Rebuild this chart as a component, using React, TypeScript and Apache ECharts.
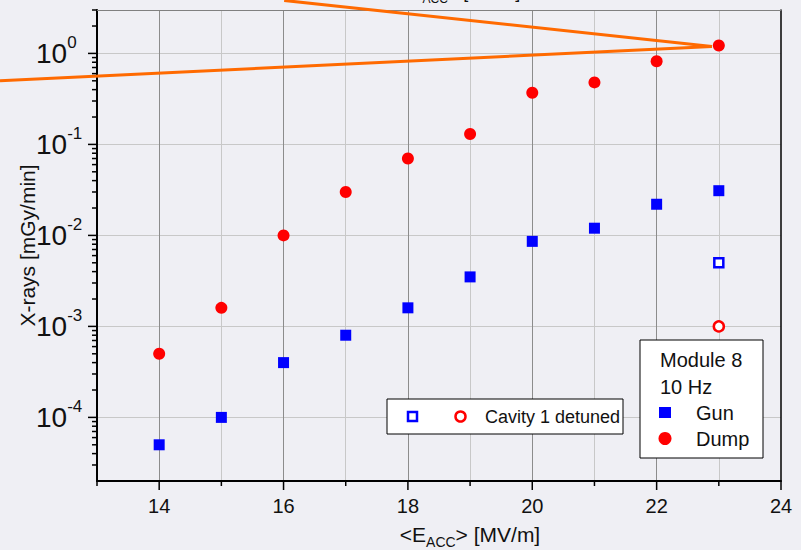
import React, { useEffect, useRef } from 'react';
import * as echarts from 'echarts';

// ---- data ----
const eaccValues = [14, 15, 16, 17, 18, 19, 20, 21, 22, 23];
const gunValues = [5.0e-5, 1.0e-4, 4.0e-4, 8.0e-4, 1.6e-3, 3.5e-3, 8.6e-3, 1.2e-2, 2.2e-2, 3.1e-2];
const dumpValues = [5.0e-4, 1.6e-3, 1.0e-2, 3.0e-2, 7.0e-2, 0.13, 0.37, 0.48, 0.82, 1.22];
const detunedEacc = [23];
const detunedGunValues = [5.0e-3];
const detunedDumpValues = [1.0e-3];
// orange guide lines (converge just left of the last Dump point): [x1, y1, x2, y2]
const guideLines = [
  [16.01, 3.82, 22.89, 1.19],
  [11.44, 0.5, 22.89, 1.19],
];

// ---- axes ----
const X_MIN = 13;
const X_MAX = 24;
const Y_MIN = 2e-5;
const Y_MAX = 3;
const xTickValues = [13, 14, 15, 16, 17, 18, 19, 20, 21, 22, 23, 24];
const xLabelValues = [14, 16, 18, 20, 22, 24];
const yDecades = [1e-5, 1e-4, 1e-3, 1e-2, 1e-1, 1];
const yMinorMultipliers = [2, 3, 4, 5, 6, 7, 8, 9];

const NARROW = "'Liberation Sans Narrow', 'Arial Narrow', 'Liberation Sans', Arial, sans-serif";
const SANS = "'Liberation Sans', Arial, sans-serif";
const TEXT = '#111111';

function buildTicks() {
  const ticks: number[][] = [];
  xTickValues.forEach((v) => {
    ticks.push([v, Y_MIN, xLabelValues.includes(v) ? 9 : 5, 0]);
  });
  yDecades.forEach((d) => {
    if (d > Y_MIN && d < Y_MAX) ticks.push([X_MIN, d, 9, 1]);
    yMinorMultipliers.forEach((m) => {
      const v = m * d;
      if (v > Y_MIN * 1.01 && v <= Y_MAX) ticks.push([X_MIN, v, 5, 1]);
    });
  });
  return ticks;
}

export default function App() {
  const ref = useRef<HTMLDivElement>(null);

  useEffect(() => {
    if (!ref.current) return;
    const chart = echarts.init(ref.current, undefined, { renderer: 'svg' });

    const isDecade = (v: number) => {
      const l = Math.log10(v);
      return Math.abs(l - Math.round(l)) < 1e-6;
    };

    const legendText = (text: string, x: number, y: number, size: number) => ({
      type: 'text',
      x,
      y,
      z: 21,
      style: { text, fontFamily: SANS, fontSize: size, fill: TEXT, verticalAlign: 'middle', align: 'left' },
    });

    const option: any = {
      animation: false,
      backgroundColor: '#efeff4',
      grid: { left: 97, right: 20, top: 10, bottom: 69, containLabel: false, outerBoundsMode: 'none' },
      xAxis: [
        {
          type: 'value',
          min: X_MIN,
          max: X_MAX,
          interval: 1,
          position: 'bottom',
          axisLine: { show: true, onZero: false, lineStyle: { color: '#000', width: 2 } },
          axisTick: { show: false },
          axisLabel: {
            margin: 14,
            fontFamily: NARROW,
            fontSize: 20,
            lineHeight: 21,
            color: TEXT,
            formatter: (v: number) => (xLabelValues.includes(v) ? String(v) : ''),
          },
          splitLine: {
            show: true,
            showMinLine: false,
            showMaxLine: false,
            lineStyle: { color: ['#8c8c8c', '#c8c8c8'], width: 1 },
          },
          name: '{n|<E}{s|ACC}{n|> [MV/m]}',
          nameLocation: 'middle',
          nameGap: 38,
          nameMoveOverlap: false,
          nameTextStyle: {
            padding: [0, 0, 0, 62],
            rich: {
              n: { fontFamily: SANS, fontSize: 21, lineHeight: 30, color: TEXT },
              s: { fontFamily: SANS, fontSize: 14, lineHeight: 16, verticalAlign: 'bottom', color: TEXT },
            },
          },
        },
        {
          type: 'value',
          min: X_MIN,
          max: X_MAX,
          interval: 1,
          position: 'top',
          axisLine: { show: true, onZero: false, lineStyle: { color: '#808080', width: 1 } },
          axisTick: { show: false },
          axisLabel: { show: false },
          splitLine: { show: false },
        },
      ],
      yAxis: [
        {
          type: 'log',
          logBase: 10,
          min: Y_MIN,
          max: Y_MAX,
          position: 'left',
          axisLine: { show: true, onZero: false, lineStyle: { color: '#000', width: 2 } },
          axisTick: { show: false },
          axisLabel: {
            margin: 61,
            align: 'left',
            formatter: (v: number) => (isDecade(v) ? `{b|10}{s|${Math.round(Math.log10(v))}}` : ''),
            rich: {
              b: { fontFamily: NARROW, fontSize: 28, lineHeight: 38, color: TEXT },
              s: { fontFamily: NARROW, fontSize: 17, lineHeight: 16, verticalAlign: 'top', color: TEXT },
            },
          },
          splitLine: {
            show: true,
            showMinLine: false,
            showMaxLine: false,
            lineStyle: { color: '#c8c8c8', width: 1 },
          },
          name: 'X-rays [mGy/min]',
          nameLocation: 'middle',
          nameGap: 59,
          nameMoveOverlap: false,
          nameTextStyle: { fontFamily: SANS, fontSize: 21, color: TEXT },
        },
        {
          type: 'log',
          logBase: 10,
          min: Y_MIN,
          max: Y_MAX,
          position: 'right',
          axisLine: { show: true, onZero: false, lineStyle: { color: '#000', width: 1.5 } },
          axisTick: { show: false },
          axisLabel: { show: false },
          splitLine: { show: false },
        },
      ],
      series: [
        {
          name: 'Guide lines',
          type: 'custom',
          coordinateSystem: 'cartesian2d',
          xAxisIndex: 0,
          yAxisIndex: 0,
          silent: true,
          clip: false,
          z: 2,
          encode: { x: [0, 2], y: [1, 3] },
          data: guideLines,
          renderItem: (params: any, api: any) => {
            const a = api.coord([api.value(0), api.value(1)]);
            const b = api.coord([api.value(2), api.value(3)]);
            return {
              type: 'line',
              shape: { x1: a[0], y1: a[1], x2: b[0], y2: b[1] },
              style: { stroke: '#ff6a00', lineWidth: 3 },
            };
          },
        },
        {
          name: 'Gun',
          type: 'scatter',
          data: eaccValues.map((x, i) => [x, gunValues[i]]),
          symbol: 'rect',
          symbolSize: 11,
          itemStyle: { color: '#0000ff', opacity: 1 },
          z: 4,
        },
        {
          name: 'Dump',
          type: 'scatter',
          data: eaccValues.map((x, i) => [x, dumpValues[i]]),
          symbol: 'circle',
          symbolSize: 12,
          itemStyle: { color: '#ff0000', opacity: 1 },
          z: 4,
        },
        {
          name: 'Gun (cavity 1 detuned)',
          type: 'scatter',
          data: detunedEacc.map((x, i) => [x, detunedGunValues[i]]),
          symbol: 'rect',
          symbolSize: 9,
          itemStyle: { color: '#ffffff', borderColor: '#0000ff', borderWidth: 2.5, opacity: 1 },
          z: 4,
        },
        {
          name: 'Dump (cavity 1 detuned)',
          type: 'scatter',
          data: detunedEacc.map((x, i) => [x, detunedDumpValues[i]]),
          symbol: 'circle',
          symbolSize: 10,
          itemStyle: { color: '#ffffff', borderColor: '#ff0000', borderWidth: 2.5, opacity: 1 },
          z: 4,
        },
        {
          name: 'ticks',
          type: 'custom',
          coordinateSystem: 'cartesian2d',
          xAxisIndex: 0,
          yAxisIndex: 0,
          silent: true,
          clip: false,
          z: 6,
          encode: { x: 0, y: 1 },
          data: buildTicks(),
          renderItem: (params: any, api: any) => {
            const p = api.coord([api.value(0), api.value(1)]);
            const len = api.value(2);
            const dir = api.value(3);
            const shape =
              dir === 0
                ? { x1: p[0], y1: p[1], x2: p[0], y2: p[1] + len }
                : { x1: p[0] - len, y1: p[1], x2: p[0], y2: p[1] };
            return { type: 'line', shape, style: { stroke: '#000', lineWidth: 1.5 } };
          },
        },
      ],
      graphic: [
        // cropped title fragment at the very top
        {
          type: 'text',
          x: 400,
          y: -21,
          z: 1,
          silent: true,
          style: {
            text: '{n|<E}{s|ACC}{n|> [MV/m]}',
            rich: {
              n: { fontFamily: SANS, fontSize: 18, lineHeight: 26, fill: TEXT },
              s: { fontFamily: SANS, fontSize: 12, lineHeight: 6, verticalAlign: 'bottom', fill: TEXT },
            },
          },
        },
        // legend: cavity 1 detuned
        { type: 'rect', z: 20, shape: { x: 387, y: 399, width: 236, height: 35 }, style: { fill: '#ffffff', stroke: '#000', lineWidth: 1 } },
        { type: 'rect', z: 21, shape: { x: 408, y: 412, width: 9, height: 9 }, style: { fill: '#ffffff', stroke: '#0000ff', lineWidth: 2.5 } },
        { type: 'circle', z: 21, shape: { cx: 460.5, cy: 416.5, r: 5 }, style: { fill: '#ffffff', stroke: '#ff0000', lineWidth: 2.5 } },
        legendText('Cavity 1 detuned', 485, 416.5, 18),
        // legend: Module 8
        { type: 'rect', z: 20, shape: { x: 640, y: 340, width: 123, height: 118 }, style: { fill: '#ffffff', stroke: '#000', lineWidth: 1 } },
        legendText('Module 8', 660, 360, 20),
        legendText('10 Hz', 660, 387, 20),
        { type: 'rect', z: 21, shape: { x: 659, y: 407, width: 12, height: 11 }, style: { fill: '#0000ff' } },
        legendText('Gun', 696, 412.5, 20),
        { type: 'circle', z: 21, shape: { cx: 665, cy: 438.5, r: 6.5 }, style: { fill: '#ff0000' } },
        legendText('Dump', 696, 438.5, 20),
      ],
    };

    chart.setOption(option);
    return () => chart.dispose();
  }, []);

  return (
    <div
      ref={ref}
      style={{ position: 'fixed', left: 0, top: 0, width: 801, height: 550, background: '#efeff4' }}
    />
  );
}
